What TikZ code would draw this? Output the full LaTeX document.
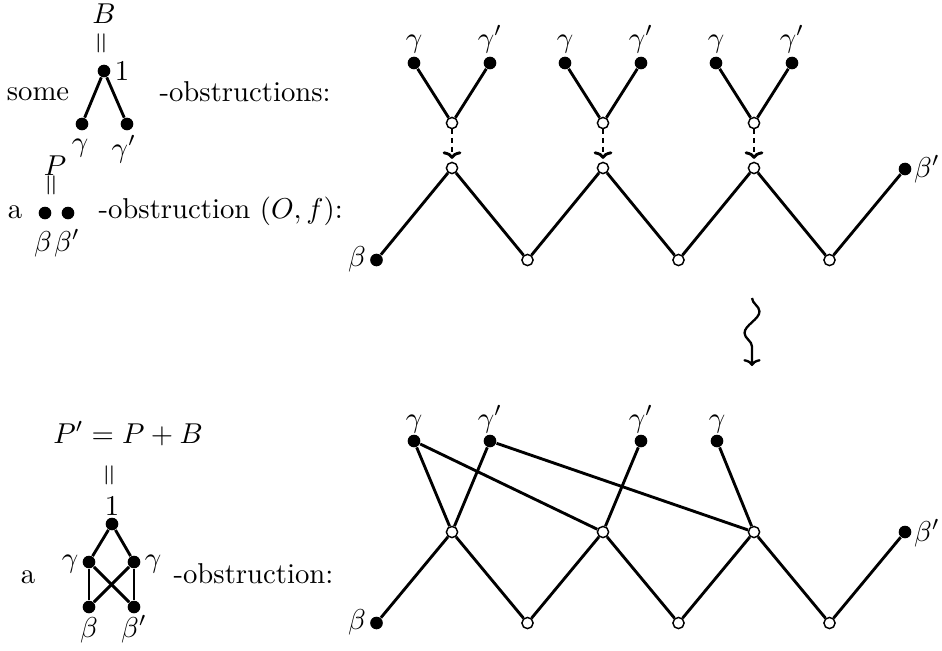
\documentclass[tikz,border=0pt]{standalone}
\usepackage{graphicx}
\usetikzlibrary{arrows.meta,decorations.pathmorphing}
\begin{document}
\begin{tikzpicture}[x=0.3484pt,y=-0.3484pt,
  bdot/.style={circle,fill=black,inner sep=0pt,minimum size=4.4pt},
  wdot/.style={circle,draw,fill=white,inner sep=0pt,minimum size=3.9pt,line width=0.5pt},
  edge/.style={line width=1pt},
  lbl/.style={inner sep=0pt,anchor=base},
  txt/.style={inner sep=0pt,anchor=base west},
  dasharrow/.style={line width=1pt,dash pattern=on 1.8pt off 1.2pt,-{Computer Modern Rightarrow[width=6.5pt,length=2.6pt]},shorten >=1pt}]
\useasboundingbox (0,0) rectangle (942,650);

% ---------- top left ----------
\node[lbl] (Blab) at (104,23) {$B$};
\node[inner sep=0pt] (eqa) at (103,43) {\rotatebox{90}{$=$}};
\node[bdot] (one) at (104,71) {};
\node[lbl] (onelab) at (122,80) {$1$};
\node[bdot] (ga) at (82,124) {};
\node[bdot] (gpa) at (127,124) {};
\node[lbl] (galab) at (80,151) {$\gamma$};
\node[lbl] (gpalab) at (124,157) {$\gamma'$};
\draw[edge] (one) -- (ga);
\draw[edge] (one) -- (gpa);
\node[lbl] (some) at (38,100) {some};
\node[txt] (obsa) at (159,101) {-obstructions:};

\node[lbl] (Plab) at (55,175) {$P$};
\node[inner sep=0pt] (eqb) at (53,185) {\rotatebox{90}{$=$}};
\node[bdot] (ba) at (45,213) {};
\node[bdot] (bpa) at (68,213) {};
\node[lbl] (balab) at (43,251) {$\beta$};
\node[lbl] (bpalab) at (67,251) {$\beta'$};
\node[lbl] (aa) at (15,218) {a};
\node[txt] (obsb) at (98,218) {-obstruction $(O,f)$:};

% ---------- bottom left ----------
\node[lbl] (Pp) at (128,443) {$P'=P+B$};
\node[inner sep=0pt] (eqc) at (111,475) {\rotatebox{90}{$=$}};
\node[lbl] (onelabb) at (112,515) {$1$};
\node[bdot] (oneb) at (112,524) {};
\node[bdot] (gl) at (89,562) {};
\node[bdot] (gr) at (134,562) {};
\node[bdot] (bl) at (89,607) {};
\node[bdot] (br) at (134,607) {};
\node[lbl] (gllab) at (70,567) {$\gamma$};
\node[lbl] (grlab) at (153,567) {$\gamma$};
\node[lbl] (bllab) at (89,637) {$\beta$};
\node[lbl] (brlab) at (134,637) {$\beta'$};
\draw[edge] (oneb) -- (gl);
\draw[edge] (oneb) -- (gr);
\draw[edge] (gl) -- (bl);
\draw[edge] (gr) -- (br);
\draw[edge] (gl) -- (br);
\draw[edge] (gr) -- (bl);
\node[lbl] (ab) at (28,583) {a};
\node[txt] (obsc) at (173,583) {-obstruction:};

% ---------- top right ----------
\node[bdot] (tb) at (376.5,260) {};
\node[wdot] (tp1) at (452,168) {};
\node[wdot] (tb1) at (527.5,260) {};
\node[wdot] (tp2) at (603,168) {};
\node[wdot] (tb2) at (678.5,260) {};
\node[wdot] (tp3) at (754,168) {};
\node[wdot] (tb3) at (829.5,260) {};
\node[bdot] (tbp) at (905,169) {};
\node[lbl] (tblab) at (357,266) {$\beta$};
\node[lbl] (tbplab) at (927,177) {$\beta'$};
\draw[edge] (tb) -- (tp1) -- (tb1) -- (tp2) -- (tb2) -- (tp3) -- (tb3) -- (tbp);

\foreach \i/\x in {1/452,2/603,3/754}{
  \node[wdot] (tu\i) at (\x,123) {};
  \node[bdot] (tg\i) at ({\x-38},63) {};
  \node[bdot] (tgp\i) at ({\x+38},63) {};
  \node[lbl] (tgl\i) at ({\x-38},47) {$\gamma$};
  \node[lbl] (tgpl\i) at ({\x+38},47) {$\gamma'$};
  \draw[edge] (tg\i) -- (tu\i) -- (tgp\i);
  \draw[dasharrow] (tu\i) -- (tp\i);
}

% ---------- squiggle ----------
\coordinate (sqa) at (752,298);
\coordinate (sqb) at (752,366);
\draw[line width=0.8pt,decorate,decoration={snake,amplitude=2.6pt,segment length=15pt,post length=2pt},-{Computer Modern Rightarrow[width=6pt,length=2.4pt]}] (sqa) -- (sqb);

% ---------- bottom right ----------
\node[bdot] (lb) at (376.5,623) {};
\node[wdot] (lp1) at (452,532) {};
\node[wdot] (lb1) at (527.5,623) {};
\node[wdot] (lp2) at (603,532) {};
\node[wdot] (lb2) at (678.5,623) {};
\node[wdot] (lp3) at (754,532) {};
\node[wdot] (lb3) at (829.5,623) {};
\node[bdot] (lbp) at (905,532) {};
\node[lbl] (lblab) at (357,629) {$\beta$};
\node[lbl] (lbplab) at (927,541) {$\beta'$};
\node[bdot] (lg1) at (414,441) {};
\node[bdot] (lgp1) at (490,441) {};
\node[bdot] (lgp2) at (641,441) {};
\node[bdot] (lg2) at (717,441) {};
\node[lbl] (lg1lab) at (414,427) {$\gamma$};
\node[lbl] (lgp1lab) at (490,427) {$\gamma'$};
\node[lbl] (lgp2lab) at (641,427) {$\gamma'$};
\node[lbl] (lg2lab) at (717,427) {$\gamma$};
\draw[edge] (lb) -- (lp1) -- (lb1) -- (lp2) -- (lb2) -- (lp3) -- (lb3) -- (lbp);
\draw[edge] (lg1) -- (lp1);
\draw[edge] (lg1) -- (lp2);
\draw[edge] (lgp1) -- (lp1);
\draw[edge] (lgp1) -- (lp3);
\draw[edge] (lgp2) -- (lp2);
\draw[edge] (lg2) -- (lp3);
\end{tikzpicture}
\end{document}
